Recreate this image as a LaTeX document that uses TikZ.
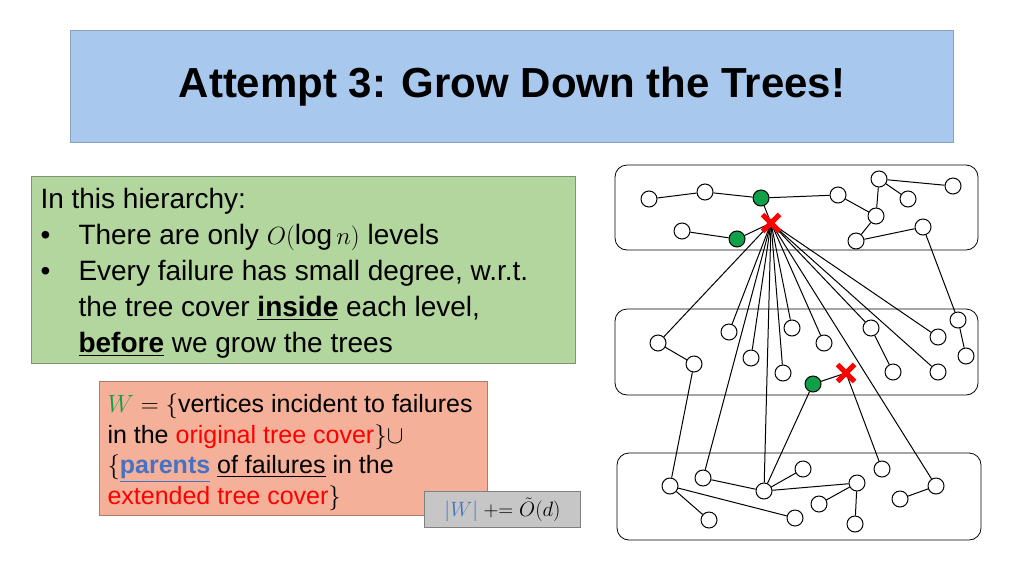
\documentclass[tikz,border=0pt]{standalone}
\usepackage{fontspec}
\usepackage{amsmath}
\setmainfont{Liberation Sans}
\usetikzlibrary{shapes.misc}
\definecolor{titleblue}{HTML}{A9C8EE}
\definecolor{boxgreen}{HTML}{B2D69E}
\definecolor{boxorange}{HTML}{F5B09A}
\definecolor{nodegreen}{HTML}{10A048}
\definecolor{linkblue}{HTML}{4472C4}
\tikzset{
  vtx/.style={circle,draw,fill=white,minimum size=16pt,inner sep=0pt},
  gvtx/.style={vtx,fill=nodegreen},
  fail/.style={cross out,draw=red,line width=5pt,minimum size=12pt,inner sep=0pt},
  level/.style={draw,rounded corners=12pt,line width=0.8pt},
  txt/.style={anchor=base west,inner sep=0pt,font=\fontsize{28}{30}\selectfont},
  otxt/.style={anchor=base west,inner sep=0pt,font=\fontsize{25}{26}\selectfont},
}
\begin{document}
\begin{tikzpicture}[x=1pt,y=-1pt,line width=1pt]
\useasboundingbox (0,0) rectangle (1024,576);
% title
\node[draw=titleblue!80!black,fill=titleblue,minimum width=883pt,minimum height=112pt,anchor=north west] (title) at (70,30) {};
\node[font=\bfseries\fontsize{42}{46}\selectfont] (ttext) at (512,87) {Attempt 3: Grow Down the Trees!};
% green box
\node[draw=boxgreen!70!black,fill=boxgreen,minimum width=544pt,minimum height=187pt,anchor=north west] (gbox) at (31,176) {};
\node[txt] (l1) at (40,208) {In this hierarchy:};
\node[txt] (l2) at (40,244) {\textbullet};
\node[txt] (l2t) at (78,244) {There are only $O(\log n)$ levels};
\node[txt] (l3) at (40,280) {\textbullet};
\node[txt] (l3t) at (78,280) {Every failure has small degree, w.r.t.};
\node[txt] (l4t) at (78,316) {the tree cover \textbf{\underline{inside}} each level,};
\node[txt] (l5t) at (78,352) {\textbf{\underline{before}} we grow the trees};
% orange box
\node[draw=boxorange!70!black,fill=boxorange,minimum width=388pt,minimum height=134pt,anchor=north west] (obox) at (99,381) {};
\node[otxt] (o1) at (107,412) {$\color{nodegreen}W$ $=\{$vertices incident to failures};
\node[otxt] (o2) at (107,443) {in the \textcolor{red}{original tree cover}$\}\cup$};
\node[otxt] (o3) at (107,473) {$\{$\textcolor{linkblue}{\textbf{\underline{parents}}} \underline{of failures} in the};
\node[otxt] (o4) at (107,504) {\textcolor{red}{extended tree cover}$\}$};
\node[draw=gray,fill=gray!45,minimum width=156pt,minimum height=36pt,anchor=north west,font=\fontsize{20}{24}\selectfont] (gray) at (424,491) {$\color{linkblue}|W|$ $\mathrel{+}= \tilde{O}(d)$};
% levels
\draw[level] (615,165) rectangle (978,250);
\draw[level] (615,309) rectangle (978,395);
\draw[level] (617,453) rectangle (981,540);
% top level
\node[vtx] (a1) at (649,199) {};
\node[vtx] (a2) at (705,192) {};
\node[gvtx] (g1) at (761,198) {};
\node[vtx] (a3) at (838,195) {};
\node[vtx] (a4) at (879,179) {};
\node[vtx] (a5) at (953,186) {};
\node[vtx] (a6) at (908,199) {};
\node[vtx] (a7) at (876,216) {};
\node[vtx] (a8) at (923,227) {};
\node[vtx] (a9) at (856,241) {};
\node[vtx] (a10) at (682,231) {};
\node[gvtx] (g2) at (737,239) {};
\coordinate (x1) at (771,223);
% middle level
\node[vtx] (b1) at (658,343) {};
\node[vtx] (b2) at (694,364) {};
\node[vtx] (b3) at (729,332) {};
\node[vtx] (b4) at (751,358) {};
\node[vtx] (b5) at (783,373) {};
\node[vtx] (b6) at (792,328) {};
\node[vtx] (b7) at (824,343) {};
\node[vtx] (b8) at (871,328) {};
\node[vtx] (b9) at (893,372) {};
\node[vtx] (b10) at (938,337) {};
\node[vtx] (b11) at (938,372) {};
\node[vtx] (b12) at (958,320) {};
\node[vtx] (b13) at (966,356) {};
\node[gvtx] (g3) at (813,384) {};
\coordinate (x2) at (846,373);
% bottom level
\node[vtx] (c1) at (670,486) {};
\node[vtx] (c2) at (703,478) {};
\node[vtx] (c3) at (764,491) {};
\node[vtx] (c4) at (803,469) {};
\node[vtx] (c5) at (857,483) {};
\node[vtx] (c6) at (882,469) {};
\node[vtx] (c7) at (936,486) {};
\node[vtx] (c8) at (900,499) {};
\node[vtx] (c9) at (819,504) {};
\node[vtx] (c10) at (795,518) {};
\node[vtx] (c11) at (709,520) {};
\node[vtx] (c12) at (855,524) {};
% edges
\draw (a1) -- (a2) -- (g1) -- (a3) -- (a7) -- (a9) -- (a8) -- (b12) -- (b13);
\draw (g1) -- (x1) -- (g2) -- (a10);
\draw (a5) -- (a4) -- (a6);
\draw (a4) -- (a7);
\foreach \t in {b1,b3,b4,b5,b6,b7,b8,b10,b11,c2,c3,c7}
  \draw (x1) -- (\t);
\draw (b1) -- (b2) -- (c1);
\draw (b8) -- (b9);
\draw (g3) -- (x2) -- (c6);
\draw (g3) -- (c3);
\draw (c11) -- (c1) -- (c10);
\draw (c2) -- (c3) -- (c4);
\draw (c3) -- (c5) -- (c9);
\draw (c5) -- (c12);
\draw (c7) -- (c8);
\node[fail] (f1) at (x1) {};
\node[fail] (f2) at (x2) {};
\end{tikzpicture}
\end{document}
